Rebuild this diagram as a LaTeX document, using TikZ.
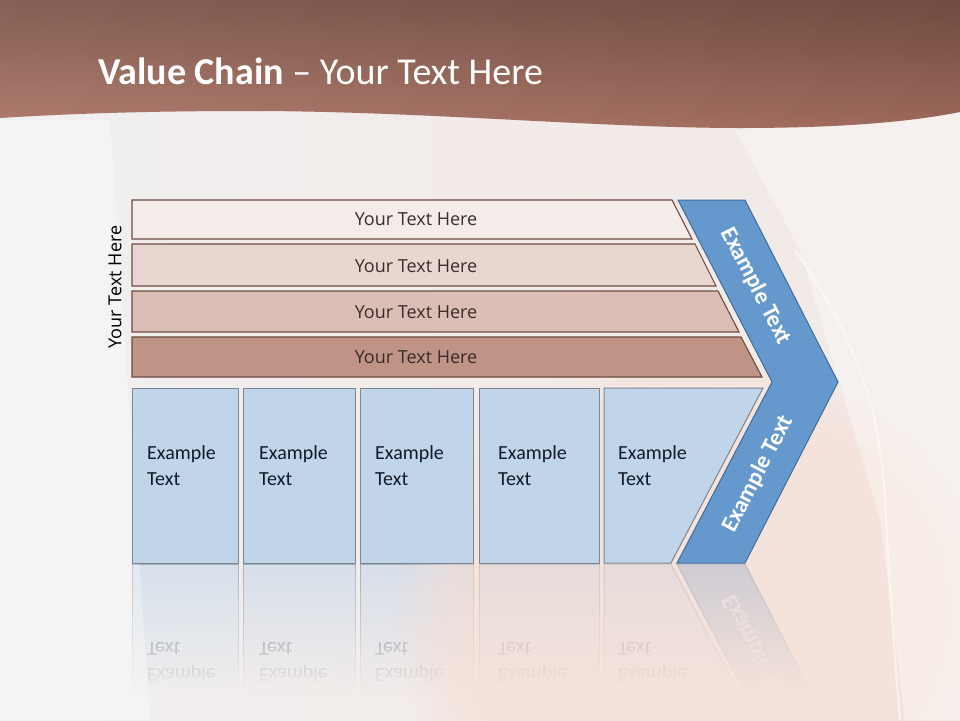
\documentclass[tikz,border=0pt]{standalone}
\usepackage{fontspec}
\setmainfont{Carlito}
\newfontfamily\osans{Open Sans}
\usetikzlibrary{fadings}
\tikzfading[name=reflfade, top color=transparent!100, bottom color=transparent!0]
\definecolor{bgL}{HTML}{F1F0F0}
\definecolor{bgM}{HTML}{F2EBE9}
\definecolor{bgR}{HTML}{F2E9E6}
\definecolor{peach}{HTML}{F8DCCF}
\definecolor{hdrTop}{HTML}{7A5246}
\definecolor{hdrBot}{HTML}{AA7263}
\definecolor{barline}{HTML}{6E4B42}
\definecolor{barA}{HTML}{F3ECE9}
\definecolor{barB}{HTML}{E8D7D1}
\definecolor{barC}{HTML}{DBBFB6}
\definecolor{barD}{HTML}{BF9386}
\definecolor{bartxt}{HTML}{3A2C28}
\definecolor{boxfill}{HTML}{C1D5EA}
\definecolor{boxline}{HTML}{7B8691}
\definecolor{boxtxt}{HTML}{111A26}
\definecolor{chevfill}{HTML}{6598CC}
\definecolor{chevline}{HTML}{3D6D9E}
\newcommand\lowerpart{%
  \path[bluebox] (132,388) rectangle (238,563);
  \path[bluebox] (243,388) rectangle (355,563);
  \path[bluebox] (360,388) rectangle (473,563);
  \path[bluebox] (479,388) rectangle (599,563);
  \path[bluebox] (604,388) -- (763,388) -- (671,563) -- (604,563) -- cycle;
  \node[boxtext] (b1a) at (147,459) {Example};
  \node[boxtext] (b1b) at (147,485) {Text};
  \node[boxtext] (b2a) at (259,459) {Example};
  \node[boxtext] (b2b) at (259,485) {Text};
  \node[boxtext] (b3a) at (375,459) {Example};
  \node[boxtext] (b3b) at (375,485) {Text};
  \node[boxtext] (b4a) at (498,459) {Example};
  \node[boxtext] (b4b) at (498,485) {Text};
  \node[boxtext] (b5a) at (618,459) {Example};
  \node[boxtext] (b5b) at (618,485) {Text};
  \path[chev] (678,200) -- (745,200) -- (838,382) -- (745,563) -- (677,563) -- (772,382) -- cycle;
  \node[chevtext, rotate=-62.7] (ct1) at (756,286) {Example Text};
  \node[chevtext, rotate=62.7] (ct2) at (758,474) {Example Text};
}
\begin{document}
\begin{tikzpicture}[x=1pt,y=-1pt,
  barbox/.style={draw=barline, line width=1.1pt},
  bartext/.style={font=\osans\fontsize{18}{22}\selectfont, text=bartxt, inner sep=0pt},
  bluebox/.style={draw=boxline, fill=boxfill, line width=1pt},
  boxtext/.style={font=\fontsize{20}{24}\selectfont, text=boxtxt, anchor=base west, inner sep=0pt},
  chev/.style={draw=chevline, fill=chevfill, line width=1pt, line join=miter},
  chevtext/.style={font=\bfseries\fontsize{23.5}{26}\selectfont, text=white, inner sep=0pt},
  bgshade/.style={left color=bgL, right color=bgR, middle color=bgM}]
\useasboundingbox (0,0) rectangle (960,720);
% background
\shade[bgshade] (0,0) rectangle (960,720);
% reflection
\begin{scope}
  \clip (0,563.6) rectangle (960,692);
  \begin{scope}[shift={(0,1127)}, yscale=-1, transform shape, opacity=0.55]
    \lowerpart
  \end{scope}
\end{scope}
\shade[bgshade, path fading=reflfade] (0,563.6) rectangle (960,693);
% soft background folds
\fill[peach, opacity=0.5, path fading=circle with fuzzy edge 20 percent] (690,610) ellipse (300 and 260);
\fill[white, opacity=0.35] (735,130) -- (960,110) -- (960,720) -- (905,720) -- (880,520) -- (800,250) -- cycle;
\fill[white, opacity=0.3] (0,120) -- (110,120) -- (150,720) -- (0,720) -- cycle;
\draw[white, opacity=0.55, line width=2pt] (795,250) .. controls (850,330) and (880,400) .. (885,500) .. controls (890,600) and (895,660) .. (900,720);
% header
\shade[top color=hdrTop, bottom color=hdrBot]
  (0,0) -- (960,0) -- (960,112) .. controls (910,122) and (840,128) .. (740,128)
  .. controls (600,128) and (420,111) .. (250,111)
  .. controls (160,111) and (80,113) .. (0,118) -- cycle;
\shade[left color=white, right color=black, opacity=0.08]
  (0,0) -- (960,0) -- (960,112) .. controls (910,122) and (840,128) .. (740,128)
  .. controls (600,128) and (420,111) .. (250,111)
  .. controls (160,111) and (80,113) .. (0,118) -- cycle;
\node[anchor=base west, inner sep=0pt, text=white, font=\fontsize{38}{42}\selectfont] (title) at (98,84) {\textbf{Value Chain} – Your Text Here};
% side label
\node[bartext, text=black, rotate=90] (side) at (115,287) {Your Text Here};
% bars
\path[barbox, fill=barA] (132,200) -- (672,200) -- (692,239) -- (132,239) -- cycle;
\path[barbox, fill=barB] (132,244) -- (695,244) -- (716,286) -- (132,286) -- cycle;
\path[barbox, fill=barC] (132,291) -- (718,291) -- (739,332) -- (132,332) -- cycle;
\path[barbox, fill=barD] (132,337) -- (741,337) -- (762,377) -- (132,377) -- cycle;
\node[bartext, anchor=base] (t1) at (416,225.5) {Your Text Here};
\node[bartext, anchor=base] (t2) at (416,272) {Your Text Here};
\node[bartext, anchor=base] (t3) at (416,318) {Your Text Here};
\node[bartext, anchor=base] (t4) at (416,363) {Your Text Here};
% lower part
\lowerpart
\end{tikzpicture}
\end{document}
